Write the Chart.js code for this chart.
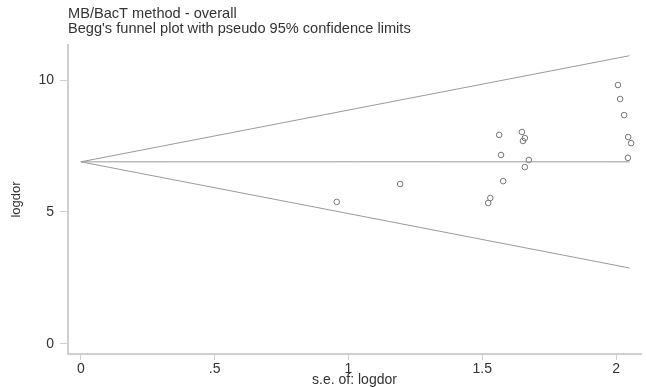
<!DOCTYPE html>
<html>
<head>
<meta charset="utf-8">
<script src="https://cdn.jsdelivr.net/npm/chart.js@4/dist/chart.umd.min.js"></script>
<style>
body { margin: 0; background: #fff; }
canvas { display: block; }
</style>
</head>
<body>
<canvas id="mainChart" width="646" height="387"></canvas>
<script>
// study points: standard error of logdor vs logdor
const seValues = [0.956, 1.193, 1.563, 1.648, 1.659, 1.652, 1.570, 1.674, 1.659, 1.578, 1.530, 1.522,
    2.007, 2.015, 2.030, 2.045, 2.056, 2.044];
const logdorValues = [5.38, 6.06, 7.92, 8.03, 7.80, 7.69, 7.16, 6.97, 6.70, 6.17, 5.53, 5.34,
    9.81, 9.28, 8.67, 7.84, 7.61, 7.05];

// pseudo 95% limits and pooled estimate
const limitSe = [0, 2.05];
const upperLimit = [6.9, 10.92];
const lowerLimit = [6.9, 2.88];
const pooled = [6.9, 6.9];

const xTicks = [0, 0.5, 1, 1.5, 2];
const xTickLabels = ["0", ".5", "1", "1.5", "2"];
const yTicks = [0, 5, 10];

const titleLines = ["MB/BacT method - overall", "Begg's funnel plot with pseudo 95% confidence limits"];

function pairs(xs, ys) {
    return xs.map((x, i) => ({x: x, y: ys[i]}));
}

const lineColor = "#9a9a9a";
const axisColor = "#cfcfcf";
const textColor = "#333";
const fontFamily = "'Liberation Sans', Arial, sans-serif";

const titlePlugin = {
    id: "stataTitle",
    afterDraw(chart) {
        const ctx = chart.ctx;
        ctx.save();
        ctx.fillStyle = textColor;
        ctx.font = "14.6px " + fontFamily;
        ctx.textBaseline = "middle";
        ctx.fillText(titleLines[0], 68, 14);
        ctx.fillText(titleLines[1], 68, 29);
        ctx.restore();
    }
};

function limitLine(ys) {
    return {
        type: "line",
        data: pairs(limitSe, ys),
        borderColor: lineColor,
        borderWidth: 1,
        pointRadius: 0,
        fill: false
    };
}

new Chart(document.getElementById("mainChart"), {
    type: "scatter",
    data: {
        datasets: [
            limitLine(upperLimit),
            limitLine(lowerLimit),
            limitLine(pooled),
            {
                data: pairs(seValues, logdorValues),
                backgroundColor: "rgba(0,0,0,0)",
                borderColor: "#777",
                borderWidth: 1,
                pointRadius: 2.8
            }
        ]
    },
    options: {
        responsive: false,
        animation: false,
        layout: {padding: {top: 45, left: 0, right: 0, bottom: 0}},
        plugins: {legend: {display: false}, tooltip: {enabled: false}},
        scales: {
            x: {
                type: "linear",
                min: -0.048,
                max: 2.093,
                afterFit(scale) { scale.height = 33; },
                afterBuildTicks(scale) { scale.ticks = xTicks.map(v => ({value: v})); },
                ticks: {
                    color: textColor,
                    font: {size: 14, family: fontFamily},
                    padding: 1,
                    maxRotation: 0,
                    callback: (v) => xTickLabels[xTicks.indexOf(v)]
                },
                grid: {drawOnChartArea: false, drawTicks: true, tickLength: 6, color: axisColor},
                border: {color: axisColor, width: 2},
                title: {
                    display: true,
                    text: "s.e. of: logdor",
                    color: textColor,
                    font: {size: 14, family: fontFamily, lineHeight: 1},
                    padding: {top: 0, bottom: 0}
                }
            },
            y: {
                type: "linear",
                min: -0.379,
                max: 11.326,
                afterFit(scale) { scale.width = 68; },
                afterBuildTicks(scale) { scale.ticks = yTicks.map(v => ({value: v})); },
                ticks: {
                    color: textColor,
                    font: {size: 14, family: fontFamily},
                    padding: 6
                },
                grid: {drawOnChartArea: false, drawTicks: true, tickLength: 8, color: axisColor},
                border: {color: axisColor, width: 2},
                title: {
                    display: true,
                    text: "logdor",
                    color: textColor,
                    font: {size: 13, family: fontFamily},
                    padding: {top: 9, bottom: 0}
                }
            }
        }
    },
    plugins: [titlePlugin]
});
</script>
</body>
</html>
